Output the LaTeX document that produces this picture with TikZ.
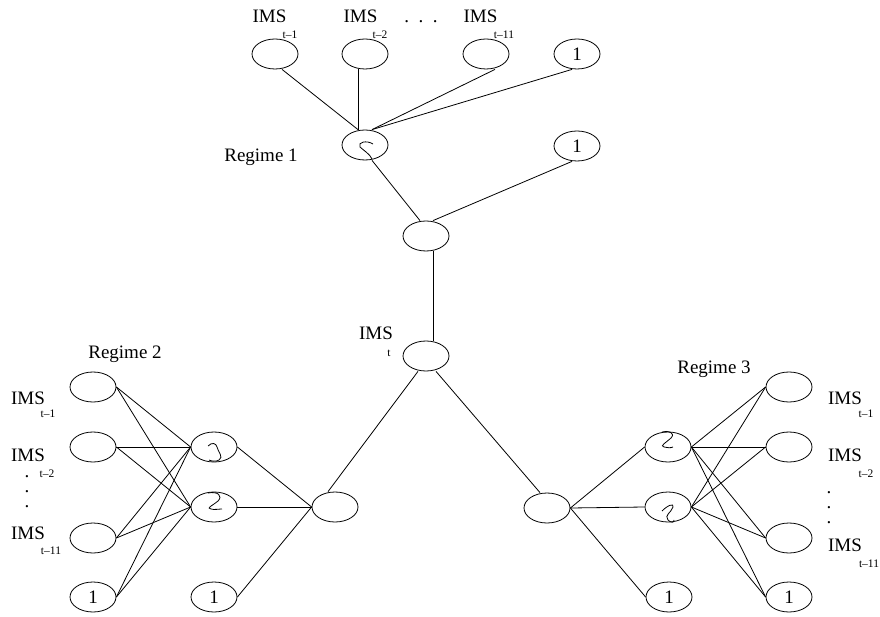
\documentclass[tikz,border=0pt]{standalone}
\usepackage{fontspec}
\setmainfont{Liberation Serif}
\usetikzlibrary{shapes.geometric}
\newcommand\bigfont{\fontsize{19}{22}\selectfont}
\newcommand\dotfont{\fontsize{19}{15}\selectfont}
\newcommand\subfont{\fontsize{11.5}{13}\selectfont}
\begin{document}
\begin{tikzpicture}[x=1pt,y=-1pt,line width=0.8pt,
  neuron/.style={ellipse,draw,line width=0.8pt,minimum width=46pt,minimum height=30pt,inner sep=0pt,font=\bigfont},
  lbl/.style={font=\bigfont,inner sep=0pt,anchor=base},
  sublbl/.style={font=\subfont,inner sep=0pt,anchor=base},
  dotcol/.style={font=\dotfont,inner sep=0pt,align=center,anchor=base},
  conn/.style={line width=0.8pt},
  sig/.style={line width=0.8pt}]
\useasboundingbox (0,0) rectangle (880,617);
% ---- top network (Regime 1)
\node[neuron] (a1) at (275,54) {};
\node[neuron] (a2) at (365,54) {};
\node[neuron] (a3) at (486,54) {};
\node[neuron] (a4) at (577,54) {1};
\node[neuron] (h0) at (365,145) {};
\node[neuron] (b0) at (577,146) {1};
\node[neuron] (o0) at (426,236) {};
\node[neuron] (imst) at (426,356) {};
\node[lbl] (ta1) at (269.5,22.5) {IMS};
\node[lbl] (ta2) at (360.5,22.5) {IMS};
\node[lbl] (tdots) at (421,22.5) {.\ \ .\ \ .};
\node[lbl] (ta3) at (480.5,22.5) {IMS};
\node[sublbl] (sa1) at (290,39) {t–1};
\node[sublbl] (sa2) at (380,39) {t–2};
\node[sublbl] (sa3) at (504,39) {t–11};
\node[lbl] (reg1) at (261,162) {Regime 1};
\node[lbl] (timst) at (376,339.5) {IMS};
\node[sublbl] (simst) at (389,356) {t};
\draw[conn] ([xshift=7]a1.south) -- ([xshift=-7]h0.north);
\draw[conn] ([xshift=-7]a2.south) -- ([xshift=-7]h0.north);
\draw[conn] ([xshift=9]a3.south) -- ([xshift=7]h0.north);
\draw[conn] ([xshift=-5]a4.south) -- ([xshift=7]h0.north);
\draw[conn] ([xshift=7]h0.south) -- ([xshift=-6]o0.north);
\draw[conn] ([xshift=-5]b0.south) -- ([xshift=7]o0.north);
\draw[conn] ([xshift=7]o0.south) -- ([xshift=7]imst.north);
\draw[sig,shift={(h0.center)}] (8,-1) .. controls (2,-5) and (-8,-3) .. (-5,2) .. controls (-2,5) and (5,9) .. (7,14);
% ---- left network (Regime 2)
\node[neuron] (l1) at (93,387) {};
\node[neuron] (l2) at (93,447) {};
\node[neuron] (l3) at (93,538) {};
\node[neuron] (lb) at (93,597) {1};
\node[neuron] (lh1) at (214,447) {};
\node[neuron] (lh2) at (214,507) {};
\node[neuron] (lb2) at (214,597) {1};
\node[neuron] (lo) at (335,507) {};
\node[lbl] (reg2) at (125,358) {Regime 2};
\node[lbl] (tl1) at (28,404.5) {IMS};
\node[lbl] (tl2) at (28,461.5) {IMS};
\node[lbl] (tl3) at (28,539.5) {IMS};
\node[sublbl] (sl1) at (48,417) {t–1};
\node[sublbl] (sl2) at (47,477) {t–2};
\node[sublbl] (sl3) at (51,554) {t–11};
\node[dotcol] (dl) at (27,507.5) {.\\.\\.};
\foreach \i in {l1,l2,l3,lb}{
  \draw[conn] (\i.east) -- (lh1.west);
  \draw[conn] (\i.east) -- (lh2.west);
}
\draw[conn] (lh1.east) -- (lo.west);
\draw[conn] (lh2.east) -- (lo.west);
\draw[conn] (lb2.east) -- (lo.west);
\draw[conn] ([xshift=-8]imst.south) -- ([xshift=-7]lo.north);
\draw[sig,shift={(lh1.center)}] (-6,-1) .. controls (-2,-5) and (2,-4) .. (3,0) .. controls (4,5) and (10,10) .. (5,13) .. controls (2,15) and (-3,14) .. (-5,13);
\draw[sig,shift={(lh2.center)}] (-6,-14) .. controls (4,-16) and (9,-11) .. (4,-6) .. controls (-2,-1) and (-8,1) .. (-3,2) .. controls (0,3) and (5,2) .. (8,2);
% ---- right network (Regime 3)
\node[neuron] (ro) at (547,508) {};
\node[neuron] (rh1) at (668,447) {};
\node[neuron] (rh2) at (668,507) {};
\node[neuron] (rb2) at (669,597) {1};
\node[neuron] (r1) at (789,387) {};
\node[neuron] (r2) at (789,447) {};
\node[neuron] (r3) at (789,538) {};
\node[neuron] (rb) at (789,597) {1};
\node[lbl] (reg3) at (714,373) {Regime 3};
\node[lbl] (tr1) at (845,404.5) {IMS};
\node[lbl] (tr2) at (845,461.5) {IMS};
\node[lbl] (tr3) at (845,551) {IMS};
\node[sublbl] (sr1) at (866,417) {t–1};
\node[sublbl] (sr2) at (866,477) {t–2};
\node[sublbl] (sr3) at (869,567) {t–11};
\node[dotcol] (dr) at (829,523.5) {.\\.\\.};
\draw[conn] (ro.east) -- (rh1.west);
\draw[conn] (ro.east) -- (rh2.west);
\draw[conn] (ro.east) -- (rb2.west);
\foreach \i in {r1,r2,r3,rb}{
  \draw[conn] (rh1.east) -- (\i.west);
  \draw[conn] (rh2.east) -- (\i.west);
}
\draw[conn] ([xshift=10]imst.south) -- ([xshift=-7]ro.north);
\draw[sig,shift={(rh1.center)}] (-6,-15) .. controls (0,-17) and (8,-14) .. (3,-9) .. controls (-1,-5) and (-9,-1) .. (-4,0) .. controls (-1,1) and (3,1) .. (5,0);
\draw[sig,shift={(rh2.center)}] (-6,4) .. controls (0,-2) and (6,-4) .. (5,0) .. controls (3,6) and (-4,8) .. (0,13) .. controls (3,16) and (6,16) .. (6,13);
\end{tikzpicture}
\end{document}
